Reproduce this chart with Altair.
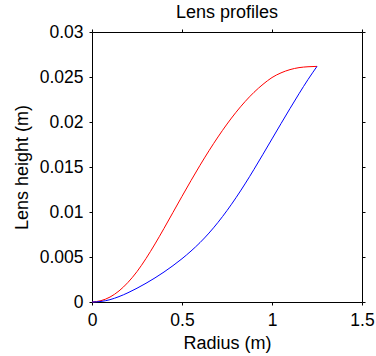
import altair as alt
import pandas as pd

radius = [0.00, 0.05, 0.10, 0.15, 0.20, 0.25, 0.30, 0.35, 0.40, 0.45, 0.50,
          0.55, 0.60, 0.65, 0.70, 0.75, 0.80, 0.85, 0.90, 0.95, 1.00,
          1.05, 1.10, 1.15, 1.20, 1.25]
red_height = [0.0, 0.00015, 0.00055, 0.00123, 0.00218, 0.00338, 0.00483, 0.00645, 0.00818, 0.00996, 0.01174,
              0.01349, 0.01519, 0.01681, 0.01834, 0.01977, 0.02108, 0.02226, 0.0233, 0.02419, 0.02494,
              0.02546, 0.02582, 0.02604, 0.02614, 0.02618]
blue_height = [0.0, 0.00006, 0.00026, 0.0006, 0.00103, 0.00153, 0.00208, 0.00268, 0.00333, 0.00404, 0.00481,
               0.00566, 0.0066, 0.00766, 0.00885, 0.01016, 0.01159, 0.01312, 0.01474, 0.01642, 0.01812,
               0.01982, 0.0215, 0.02314, 0.02472, 0.02618]

rows = []
for r, h in zip(radius, red_height):
    rows.append({"r": r, "h": h, "s": "red"})
for r, h in zip(radius, blue_height):
    rows.append({"r": r, "h": h, "s": "blue"})
df = pd.DataFrame(rows)

FONT = "Liberation Sans"
xs = alt.Scale(domain=[0, 1.5], nice=False, zero=False)
ys = alt.Scale(domain=[0, 0.03], nice=False, zero=False)
cs = alt.Scale(domain=["red", "blue"], range=["#ff0000", "#0000ff"])

common = dict(domainColor="black", tickColor="black", tickSize=3, grid=False,
              labelFont=FONT, titleFont=FONT, labelColor="black", titleColor="black",
              labelFontSize=17.5, titleFontSize=18, titleFontWeight="normal", domainWidth=1,
              tickWidth=1, format="~g", labelFlush=False, labelOverlap=False)

xvals = [0, 0.5, 1, 1.5]
yvals = [0, 0.005, 0.01, 0.015, 0.02, 0.025, 0.03]

main = alt.Chart(df).mark_line(strokeWidth=1, interpolate="monotone").encode(
    x=alt.X("r:Q", scale=xs, axis=alt.Axis(orient="bottom", title="Radius (m)",
                                           values=xvals, titlePadding=6, labelPadding=6, **common)),
    y=alt.Y("h:Q", scale=ys, axis=alt.Axis(orient="left", title="Lens height (m)",
                                           values=yvals, titlePadding=8, labelPadding=6, **common)),
    color=alt.Color("s:N", scale=cs, legend=None),
    detail="s:N",
)

mirror = alt.Chart(df).mark_line(opacity=0).encode(
    x=alt.X("r:Q", scale=xs, axis=alt.Axis(orient="top", title=None, labels=False,
                                           values=xvals, **common)),
    y=alt.Y("h:Q", scale=ys, axis=alt.Axis(orient="right", title=None, labels=False,
                                           values=yvals, **common)),
    detail="s:N",
)

chart = alt.layer(main, mirror).resolve_axis(x="independent", y="independent").properties(
    width=270, height=270,
    title=alt.TitleParams("Lens profiles", font=FONT, fontSize=18, fontWeight="normal",
                          color="black", anchor="middle", offset=1),
    autosize=alt.AutoSizeParams(type="none"),
    padding={"left": 92, "top": 32, "right": 14, "bottom": 54},
).configure_view(stroke="black", strokeWidth=1).configure(background="white")

chart.save("out.html", embed_options={"renderer": "svg", "actions": False})
